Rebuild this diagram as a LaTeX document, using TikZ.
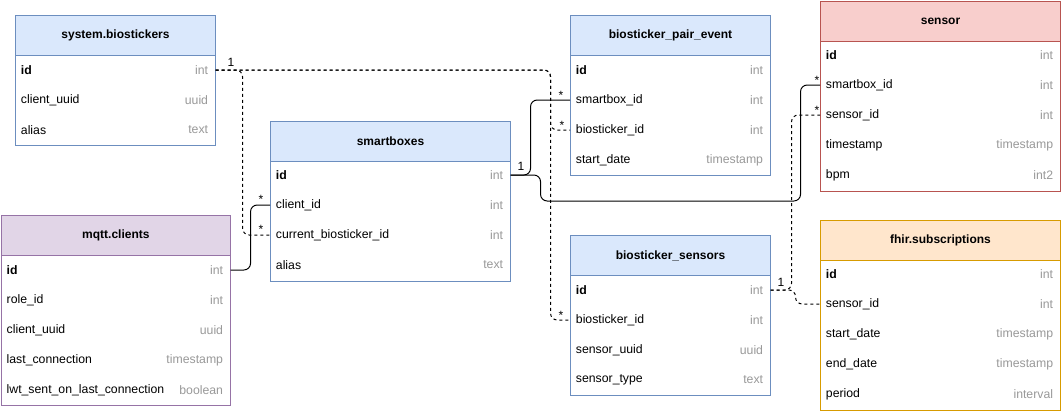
\documentclass[tikz,border=0pt]{standalone}
\usepackage{fontspec}
\setmainfont{Liberation Sans}
\definecolor{bluefill}{HTML}{DAE8FC}\definecolor{bluedraw}{HTML}{6C8EBF}
\definecolor{redfill}{HTML}{F8CECC}\definecolor{reddraw}{HTML}{B85450}
\definecolor{orfill}{HTML}{FFE6CC}\definecolor{ordraw}{HTML}{D79B00}
\definecolor{pufill}{HTML}{E1D5E7}\definecolor{pudraw}{HTML}{9673A6}
\definecolor{typegray}{HTML}{999999}
\newcommand\ertable[8]{% name, x, y(top), w, title, fill, draw, nrows
  \node[hdr, fill=#6, draw=#7, minimum width=#4*0.75pt, anchor=north west] (#1-head) at (#2,#3) {#5};
  \node[bodybox, draw=#7, minimum width=#4*0.75pt, minimum height=(#8*30)*0.75pt, anchor=north west] (#1-body) at (#2,#3+40) {};
}
\newcommand\errow[7]{% name, x, y(center), w, label, type, bold?
  \node[rowbox, minimum width=#4*0.75pt, anchor=west] (#1) at (#2,#3) {};
  \node[rowlab, anchor=west] (#1-lab) at (#2+3,#3) {#7#5};
  \node[rowtype, anchor=east] (#1-type) at (#2+#4-4,#3) {#6};
}
\begin{document}
\begin{tikzpicture}[x=0.75pt,y=-0.75pt,
  hdr/.style={rectangle, minimum height=30pt, inner sep=0pt, line width=0.75pt, font=\fontsize{9}{11}\selectfont\bfseries},
  bodybox/.style={rectangle, fill=white, inner sep=0pt, line width=0.75pt},
  rowbox/.style={rectangle, minimum height=22.5pt, inner sep=0pt},
  rowlab/.style={inner sep=2pt, font=\fontsize{9.2}{11}\selectfont},
  rowtype/.style={inner sep=2pt, text=typegray, font=\fontsize{9.2}{11}\selectfont},
  edge/.style={draw=black, line width=0.75pt, rounded corners=5pt},
  dedge/.style={edge, dash pattern=on 2.25pt off 2.25pt},
  card/.style={inner sep=0pt, font=\fontsize{9}{11}\selectfont}]
\useasboundingbox (0,0) rectangle (1061,414);
\fill[white] (0,0) rectangle (1061,414);

% system.biostickers
\ertable{sysb}{15}{15}{200}{system.biostickers}{bluefill}{bluedraw}{3}
\errow{sysb-id}{15}{70}{200}{id}{int}{\bfseries}
\errow{sysb-cu}{15}{100}{200}{client\_uuid}{uuid}{}
\errow{sysb-al}{15}{130}{200}{alias}{text}{}

% mqtt.clients
\ertable{mq}{0.75}{215}{229.25}{mqtt.clients}{pufill}{pudraw}{5}
\errow{mq-id}{0.75}{270}{229.25}{id}{int}{\bfseries}
\errow{mq-role}{0.75}{300}{229.25}{role\_id}{int}{}
\errow{mq-cu}{0.75}{330}{229.25}{client\_uuid}{uuid}{}
\errow{mq-lc}{0.75}{360}{229.25}{last\_connection}{timestamp}{}
\errow{mq-lwt}{0.75}{390}{229.25}{lwt\_sent\_on\_last\_connection}{boolean}{}

% smartboxes
\ertable{sb}{270}{121}{240}{smartboxes}{bluefill}{bluedraw}{4}
\errow{sb-id}{270}{175}{240}{id}{int}{\bfseries}
\errow{sb-client}{270}{205}{240}{client\_id}{int}{}
\errow{sb-cur}{270}{235}{240}{current\_biosticker\_id}{int}{}
\errow{sb-al}{270}{265}{240}{alias}{text}{}

% biosticker_pair_event
\ertable{bpe}{570}{15}{200}{biosticker\_pair\_event}{bluefill}{bluedraw}{4}
\errow{bpe-id}{570}{70}{200}{id}{int}{\bfseries}
\errow{bpe-sb}{570}{100}{200}{smartbox\_id}{int}{}
\errow{bpe-bio}{570}{130}{200}{biosticker\_id}{int}{}
\errow{bpe-sd}{570}{160}{200}{start\_date}{timestamp}{}

% biosticker_sensors
\ertable{bs}{570}{235}{200}{biosticker\_sensors}{bluefill}{bluedraw}{4}
\errow{bs-id}{570}{290}{200}{id}{int}{\bfseries}
\errow{bs-bio}{570}{320}{200}{biosticker\_id}{int}{}
\errow{bs-su}{570}{350}{200}{sensor\_uuid}{uuid}{}
\errow{bs-st}{570}{380}{200}{sensor\_type}{text}{}

% sensor
\ertable{sen}{820}{0.75}{240}{sensor}{redfill}{reddraw}{5}
\errow{sen-id}{820}{55}{240}{id}{int}{\bfseries}
\errow{sen-sb}{820}{85}{240}{smartbox\_id}{int}{}
\errow{sen-sid}{820}{115}{240}{sensor\_id}{int}{}
\errow{sen-ts}{820}{145}{240}{timestamp}{timestamp}{}
\errow{sen-bpm}{820}{175}{240}{bpm}{int2}{}

% fhir.subscriptions
\ertable{fh}{820}{220}{240}{fhir.subscriptions}{orfill}{ordraw}{5}
\errow{fh-id}{820}{274}{240}{id}{int}{\bfseries}
\errow{fh-sid}{820}{304}{240}{sensor\_id}{int}{}
\errow{fh-sd}{820}{334}{240}{start\_date}{timestamp}{}
\errow{fh-ed}{820}{364}{240}{end\_date}{timestamp}{}
\errow{fh-per}{820}{394}{240}{period}{interval}{}

% connectors
\draw[dedge] (sysb-id.east) -- ++(27,0) |- (sb-cur.west);
\draw[dedge] (sysb-id.east) -- ++(335,0) |- (bpe-bio.west);
\draw[dedge] (sysb-id.east) -- ++(335,0) |- (bs-bio.west);
\draw[edge] (mq-id.east) -- ++(20,0) |- (sb-client.west);
\draw[edge] (sb-id.east) -- ++(20,0) |- (bpe-sb.west);
\draw[edge] (sb-id.east) -- ++(30,0) -- ++(0,26) -- ++(260,0) |- (sen-sb.west);
\draw[dedge] (bs-id.east) -- ++(21,0) |- (sen-sid.west);
\draw[dedge] (bs-id.east) -- ++(25,0) |- (fh-sid.west);

% cardinalities
\node[card] (c1) at (231,62) {1};
\node[card] (c2) at (261,199) {*};
\node[card] (c3) at (261,229) {*};
\node[card] (c4) at (521,166) {1};
\node[card] (c5) at (561,95) {*};
\node[card] (c6) at (562,125) {*};
\node[card] (c7) at (817,80) {*};
\node[card] (c8) at (817,110) {*};
\node[card] (c9) at (781,282) {1};
\node[card] (c10) at (561,315) {*};
\end{tikzpicture}
\end{document}
